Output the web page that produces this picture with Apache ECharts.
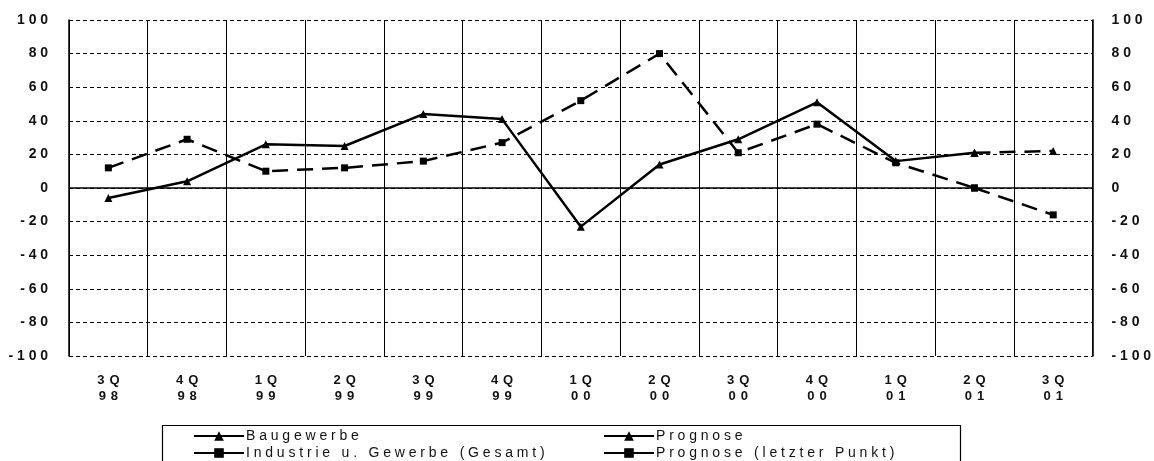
<!DOCTYPE html>
<html>
<head>
<meta charset="utf-8">
<script src="https://cdn.jsdelivr.net/npm/echarts@6/dist/echarts.min.js"></script>
<style>html,body{margin:0;padding:0;background:#fff;}#c{width:1154px;height:461px;}</style>
</head>
<body>
<div id="c"></div>
<script>
var categories = ['3Q\n98','4Q\n98','1Q\n99','2Q\n99','3Q\n99','4Q\n99','1Q\n00','2Q\n00','3Q\n00','4Q\n00','1Q\n01','2Q\n01','3Q\n01'];
var baugewerbe = [-6, 4, 26, 25, 44, 41, -23, 14, 29, 51, 16, 21, null];
var prognoseBau = [null, null, null, null, null, null, null, null, null, null, null, 21, 22];
var industrie = [12, 29, 10, 12, 16, 27, 52, 80, 21, 38, 15, 0, null];
var prognoseInd = [null, null, null, null, null, null, null, null, null, null, null, 0, -16];
var yTicks = {min: -100, max: 100, interval: 20};

var font = 'Liberation Sans, Arial, sans-serif';
// letter-spaced text via rich tokens (text stays the same characters)
function spaced(str) {
  return String(str).split('\n').map(function (line) {
    return line.split('').map(function (c, i) {
      return (i === 0 ? '{f|' : '{s|') + c + '}';
    }).join('');
  }).join('\n');
}
function richSet(gap, size, weight) {
  return {
    f: {fontFamily: font, fontSize: size, fontWeight: weight, color: '#111'},
    s: {fontFamily: font, fontSize: size, fontWeight: weight, color: '#111', padding: [0, 0, 0, gap]}
  };
}

var chart = echarts.init(document.getElementById('c'));
var dash = [16, 9];
var yAxisBase = function (pos) {
  return {
    type: 'value', position: pos, min: yTicks.min, max: yTicks.max, interval: yTicks.interval,
    axisLine: {show: true, lineStyle: {color: '#000', width: 1.5}},
    axisTick: {show: false},
    axisLabel: {
      color: '#111', fontFamily: font, fontSize: 14, fontWeight: 'bold',
      margin: pos === 'left' ? 21 : 19,
      formatter: function (v) { return spaced(v); },
      rich: richSet(3.8, 14, 'bold')
    },
    splitLine: {show: pos === 'left', lineStyle: {color: '#000', type: [4, 3], width: 1}}
  };
};
var legendItem = function (name, left, top) {
  return {
    data: [name], orient: 'horizontal', left: left, top: top, padding: 0,
    itemWidth: 50, itemHeight: 12,
    formatter: function (n) { return spaced(n); },
    textStyle: {color: '#111', fontFamily: font, fontSize: 14, padding: [0, 0, 0, -3], rich: richSet(3.8, 14, 'normal')},
    lineStyle: {type: 'solid', width: 2}
  };
};
chart.setOption({
  backgroundColor: '#fff',
  animation: false,
  grid: {left: 69, right: 61, top: 20, bottom: 105},
  xAxis: {
    type: 'category', data: categories, boundaryGap: true,
    axisLine: {show: false, onZero: false},
    axisTick: {show: false},
    axisLabel: {
      color: '#111', fontFamily: font, fontSize: 13, fontWeight: 'bold', lineHeight: 16, margin: 16, interval: 0,
      formatter: function (v) { return spaced(v); },
      rich: richSet(5, 13, 'bold')
    },
    splitLine: {show: true, interval: 0, lineStyle: {color: '#000', width: 1}}
  },
  yAxis: [yAxisBase('left'), yAxisBase('right')],
  legend: [
    legendItem('Baugewerbe', 193, 429),
    legendItem('Industrie u. Gewerbe (Gesamt)', 193, 446),
    legendItem('Prognose', 603, 429),
    legendItem('Prognose (letzter Punkt)', 603, 446)
  ],
  graphic: [{
    type: 'rect', left: 160, top: 423, shape: {width: 798, height: 60},
    style: {fill: 'none', stroke: '#000', lineWidth: 1.2}, silent: true, z: 0
  }],
  series: [
    {
      name: 'Baugewerbe', type: 'line', data: baugewerbe,
      symbol: 'triangle', symbolSize: 8, connectNulls: false,
      lineStyle: {color: '#000', width: 2.5}, itemStyle: {color: '#000'},
      markLine: {
        silent: true, symbol: 'none', label: {show: false},
        lineStyle: {color: '#000', type: 'solid', width: 1.5},
        data: [{yAxis: 0}]
      }
    },
    {
      name: 'Prognose', type: 'line', data: prognoseBau,
      symbol: 'triangle', symbolSize: 8,
      lineStyle: {color: '#000', width: 2.5, type: dash}, itemStyle: {color: '#000'}
    },
    {
      name: 'Industrie u. Gewerbe (Gesamt)', type: 'line', data: industrie,
      symbol: 'rect', symbolSize: 7,
      lineStyle: {color: '#000', width: 2.5, type: dash}, itemStyle: {color: '#000'}
    },
    {
      name: 'Prognose (letzter Punkt)', type: 'line', data: prognoseInd,
      symbol: 'rect', symbolSize: 7,
      lineStyle: {color: '#000', width: 2.5, type: dash}, itemStyle: {color: '#000'}
    }
  ]
});
</script>
</body>
</html>
